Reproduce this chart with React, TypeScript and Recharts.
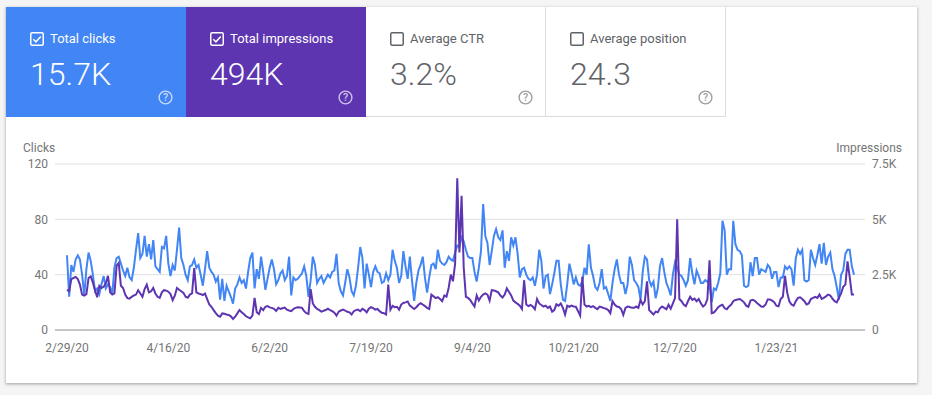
import { LineChart, Line, XAxis, YAxis, CartesianGrid } from "recharts";

// daily values, 2/29/20 .. 2/28/21
const clicks = [
  54,24,47,42,51,54,51,40,25,44,
  56,50,40,28,30,26,33,39,30,33,
  31,26,45,52,53,48,43,39,45,38,
  36,45,58,70,52,55,68,53,62,51,
  65,46,44,42,60,59,68,48,39,47,
  43,58,74,52,47,40,36,46,47,51,
  45,47,40,32,44,57,45,42,40,35,
  38,22,37,21,32,28,24,19,30,33,
  38,34,36,30,42,52,56,30,44,37,
  53,42,29,37,45,51,44,33,36,41,
  43,36,39,53,25,38,36,37,39,41,
  46,39,24,36,53,47,34,37,39,34,
  37,40,38,42,43,55,34,28,25,34,
  44,38,28,25,32,45,60,52,30,48,
  40,31,42,46,42,41,34,35,41,36,
  40,58,50,45,34,39,57,46,37,53,
  36,21,34,43,47,53,38,27,38,47,
  48,44,58,50,48,47,49,53,51,50,
  56,61,60,67,64,58,53,52,52,42,
  35,45,57,91,68,63,47,57,68,73,
  67,65,72,45,57,50,67,61,67,55,
  38,44,45,40,37,36,38,32,40,58,
  50,30,39,40,26,33,41,50,50,33,
  22,21,33,48,41,33,38,33,32,35,
  45,40,62,45,39,31,29,34,44,30,
  31,26,21,34,44,51,40,34,34,26,
  33,53,47,36,34,31,22,42,53,51,
  36,32,35,23,30,46,52,42,34,30,
  25,40,49,45,40,39,36,32,36,52,
  41,33,43,39,34,34,36,35,33,20,
  30,29,34,41,79,72,40,44,44,79,
  62,58,57,54,32,31,32,49,39,52,
  52,40,44,43,42,47,45,37,42,42,
  31,38,38,46,44,46,44,32,52,58,
  55,58,36,35,36,58,52,47,54,62,
  48,63,47,53,56,44,39,31,22,40,
  43,55,58,58,46,40,
];

const impressions = [
  1820,1750,2300,2350,2400,2300,2050,1600,1550,1620,
  2350,2420,2150,1800,1480,2000,1900,1950,2100,2450,
  1700,1600,1650,2900,3030,2000,1900,1600,1440,1420,
  1500,1560,1600,1800,1650,1500,1850,2050,1700,1750,
  1900,1650,1500,1450,1700,1800,1780,1730,1620,1350,
  1550,1900,1820,1750,1680,1500,1460,1600,1650,2800,
  1700,1650,1620,1580,1650,1400,1150,1050,900,760,
  650,600,750,730,700,680,620,500,600,750,
  900,800,720,620,570,530,650,1450,800,720,
  1000,900,1050,1080,1020,1000,960,860,1000,950,
  980,1010,920,880,850,950,1000,1030,1020,1000,
  850,760,730,1850,1200,1050,950,900,830,870,
  900,960,900,850,780,650,830,880,920,880,
  820,800,700,850,900,920,850,960,900,800,
  960,1030,990,920,950,850,780,760,700,2050,
  920,1090,1030,1050,920,1150,1220,1250,1290,1100,
  1030,950,1030,1140,1210,1150,1080,1000,950,1600,
  1520,1440,1480,1400,1300,1560,1500,1900,2500,2200,
  3000,6850,3500,6060,2800,1500,1450,1360,1200,1060,
  1560,1330,1500,1600,1650,1600,1330,1800,1790,1750,
  1700,1560,1470,1600,1880,1720,1560,1330,1250,1180,
  1100,950,2250,1150,1080,1130,1060,940,1400,1200,
  1130,1060,1100,1000,1060,830,900,1160,1100,1200,
  1000,700,1100,1050,1100,1060,1050,850,650,2400,
  1150,1060,1090,1030,1080,1000,940,1060,1030,990,
  960,900,760,1300,1150,1060,1040,950,680,1000,
  1060,1040,1000,1000,1060,1000,1360,1150,1300,2200,
  900,800,700,830,800,980,1060,1000,940,1140,
  960,1200,1440,5000,1400,1300,1150,1080,1300,1500,
  1360,1420,1300,1400,1200,1060,1140,1400,3150,760,
  790,900,1030,1100,1140,980,940,1060,1140,1300,
  1360,1380,1400,1330,1250,1100,1050,1330,1360,1320,
  1220,1140,1060,1050,1150,1380,1380,1330,1260,1100,
  1070,1400,1500,2450,1700,1300,1150,1100,1300,1450,
  1480,1400,1300,1150,1200,1400,1450,1500,1450,1600,
  1400,1450,1520,1600,1560,1420,1300,1250,1450,1650,
  1950,2050,3100,2400,1600,1600,
];

const tickDays = [0, 47, 94, 141, 188, 235, 282, 329];
const tickLabels = ["2/29/20", "4/16/20", "6/2/20", "7/19/20", "9/4/20", "10/21/20", "12/7/20", "1/23/21"];
const clickTicks = [0, 40, 80, 120];
const impressionTicks = [0, 2500, 5000, 7500];

const data = clicks.map((c, i) => ({ day: i, clicks: c, impressions: impressions[i] }));

const BLUE = "#4285f4";
const PURPLE = "#5e35b1";
const GREY = "#757575";

const CheckBox = ({ checked, color }: { checked: boolean; color: string }) => (
  <svg width={14} height={14} style={{ display: "block" }}>
    <rect x={0.75} y={0.75} width={12.5} height={12.5} rx={1.5} fill="none" stroke={color} strokeWidth={1.5} />
    {checked && <path d="M3.3 7.2 L5.9 9.8 L10.8 4.4" fill="none" stroke={color} strokeWidth={1.5} />}
  </svg>
);

const Help = ({ color }: { color: string }) => (
  <svg width={15} height={15} style={{ display: "block" }}>
    <circle cx={7.5} cy={7.5} r={6.4} fill="none" stroke={color} strokeWidth={1.4} />
    <text x={7.5} y={11.3} textAnchor="middle" fontSize={10.5} fontWeight={500} fill={color} fontFamily="Roboto, sans-serif">?</text>
  </svg>
);

const MetricCard = ({ label, value, checked, bg }: { label: string; value: string; checked: boolean; bg?: string }) => {
  const fg = bg ? "#ffffff" : "#5f6368";
  return (
    <div
      style={{
        position: "relative",
        width: 180,
        height: 110,
        boxSizing: "border-box",
        background: bg || "#ffffff",
        borderRight: bg ? "none" : "1px solid #dadce0",
        borderBottom: bg ? "none" : "1px solid #dadce0",
        color: fg,
      }}
    >
      <div style={{ position: "absolute", left: 24, top: 25 }}>
        <CheckBox checked={checked} color={bg ? "#ffffff" : "#5f6368"} />
      </div>
      <div style={{ position: "absolute", left: 44, top: 24, fontSize: 13, lineHeight: "15px", whiteSpace: "nowrap" }}>{label}</div>
      <div style={{ position: "absolute", left: 24, top: 51, fontSize: 32, fontWeight: 300, lineHeight: "32px" }}>{value}</div>
      <div style={{ position: "absolute", left: 152, top: 83 }}>
        <Help color={bg ? "rgba(255,255,255,0.7)" : "#9e9e9e"} />
      </div>
    </div>
  );
};

export default function App() {
  const tickStyle = { fill: GREY, fontSize: 12, fontFamily: "Roboto, sans-serif" };
  return (
    <div style={{ position: "absolute", left: 0, top: 0, width: 932, height: 395, background: "#f5f5f5", fontFamily: "Roboto, sans-serif" }}>
      <div
        style={{
          position: "absolute",
          left: 6,
          top: 7,
          width: 911,
          height: 376,
          background: "#ffffff",
          boxShadow: "0 1px 2px rgba(60,64,67,0.3), 0 1px 3px 1px rgba(60,64,67,0.15)",
        }}
      >
        <div style={{ display: "flex" }}>
          <MetricCard label="Total clicks" value="15.7K" checked bg={BLUE} />
          <MetricCard label="Total impressions" value="494K" checked bg={PURPLE} />
          <MetricCard label="Average CTR" value="3.2%" checked={false} />
          <MetricCard label="Average position" value="24.3" checked={false} />
        </div>

        <div style={{ position: "absolute", left: 17, top: 135, fontSize: 12, lineHeight: "13px", color: GREY }}>Clicks</div>
        <div style={{ position: "absolute", right: 15, top: 135, fontSize: 12, lineHeight: "13px", color: GREY }}>Impressions</div>

        <div style={{ position: "absolute", left: 0, top: 130 }}>
          <LineChart width={911} height={250} data={data} margin={{ top: 27, right: 0, bottom: 27, left: 0 }}>
            <CartesianGrid vertical={false} stroke="#e0e0e0" yAxisId="left" />
            <XAxis
              dataKey="day"
              type="number"
              domain={[0, 365]}
              ticks={tickDays}
              tickFormatter={(v: number) => tickLabels[tickDays.indexOf(v)]}
              padding={{ left: 12, right: 11 }}
              height={30}
              tickSize={0}
              tickMargin={13}
              stroke="#9e9e9e"
              tick={tickStyle}
            />
            <YAxis
              yAxisId="left"
              domain={[0, 120]}
              ticks={clickTicks}
              width={49}
              axisLine={false}
              tickLine={false}
              tickSize={0}
              tickMargin={7}
              tick={tickStyle}
            />
            <YAxis
              yAxisId="right"
              orientation="right"
              domain={[0, 7500]}
              ticks={impressionTicks}
              tickFormatter={(v: number) => (v === 0 ? "0" : `${v / 1000}K`)}
              width={52}
              axisLine={false}
              tickLine={false}
              tickSize={0}
              tickMargin={7}
              tick={tickStyle}
            />
            <Line yAxisId="left" type="linear" dataKey="clicks" stroke={BLUE} strokeWidth={2} dot={false} isAnimationActive={false} />
            <Line yAxisId="right" type="linear" dataKey="impressions" stroke={PURPLE} strokeWidth={2} dot={false} isAnimationActive={false} />
          </LineChart>
        </div>
      </div>
    </div>
  );
}
